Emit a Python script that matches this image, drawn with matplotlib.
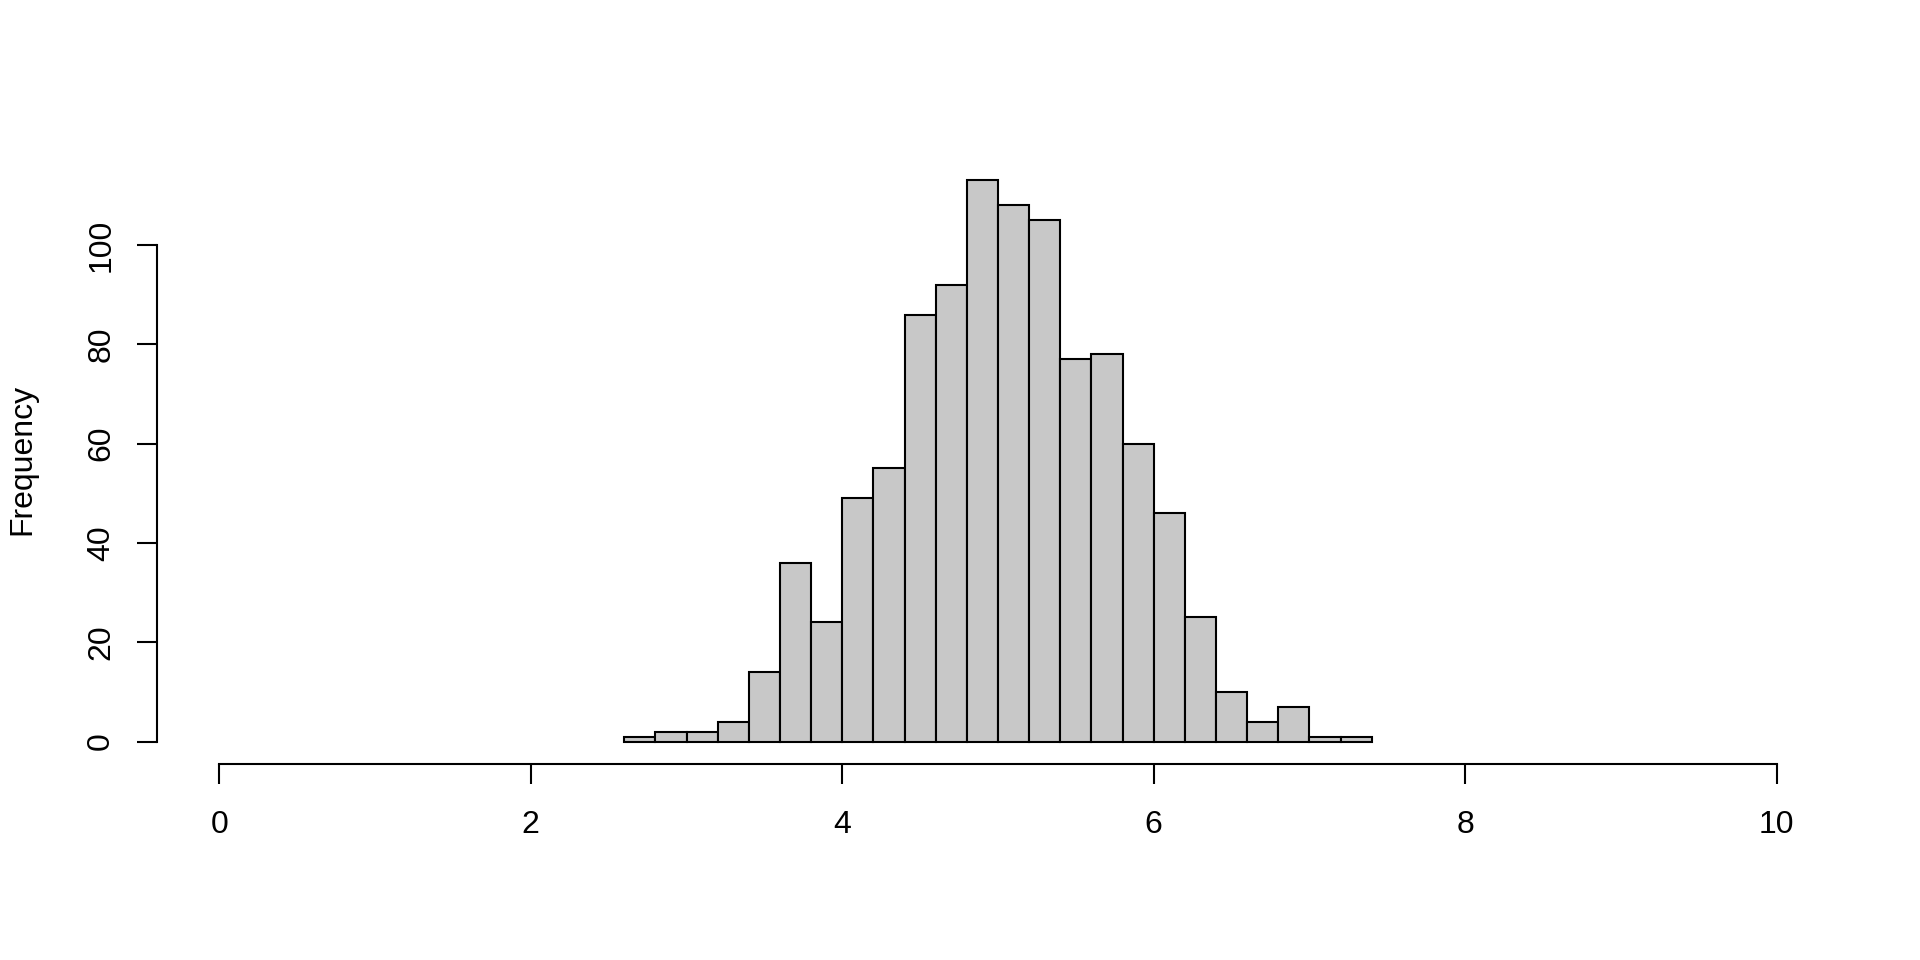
import numpy as np
import matplotlib
matplotlib.use("Agg")
import matplotlib.pyplot as plt

# histogram bins (width 0.2) and counts
bin_edges = np.round(np.arange(2.6, 7.4001, 0.2), 1)
counts = [1, 2, 2, 4, 14, 36, 24, 49, 55, 86, 92, 113,
          108, 105, 77, 78, 60, 46, 25, 10, 4, 7, 1, 1]
x_ticks = [0, 2, 4, 6, 8, 10]
y_ticks = [0, 20, 40, 60, 80, 100]

plt.rcParams['font.family'] = ['Liberation Sans', 'DejaVu Sans']

fig = plt.figure(figsize=(19.2, 9.6), dpi=100)
ax = fig.add_axes([157 / 1920, 1 - 764 / 960, (1839 - 157) / 1920, (764 - 158) / 960])

ax.bar(bin_edges[:-1], counts, width=np.diff(bin_edges), align='edge',
       color='#C8C8C8', edgecolor='black', linewidth=1.5)

ymax = max(counts)
ax.set_xlim(-0.4, 10.4)
ax.set_ylim(-0.04 * ymax, 1.04 * ymax)

for side in ['top', 'right']:
    ax.spines[side].set_visible(False)
ax.spines['bottom'].set_bounds(0, 10)
ax.spines['left'].set_bounds(0, 100)
for side in ['bottom', 'left']:
    ax.spines[side].set_linewidth(1.5)

ax.set_xticks(x_ticks)
ax.set_yticks(y_ticks)
ax.set_xticklabels([str(t) for t in x_ticks])
ax.set_yticklabels([str(t) for t in y_ticks], rotation=90, va='center')
ax.tick_params(axis='both', direction='out', length=14.4, width=1.5, labelsize=23)
ax.tick_params(axis='x', pad=19)
ax.tick_params(axis='y', pad=15)

# y label placed like R's mtext on line 3
fig.text(22.5 / 1920, 1 - 459 / 960, 'Frequency', rotation=90,
         ha='center', va='center', fontsize=23)

fig.savefig('out.png', dpi=100)
